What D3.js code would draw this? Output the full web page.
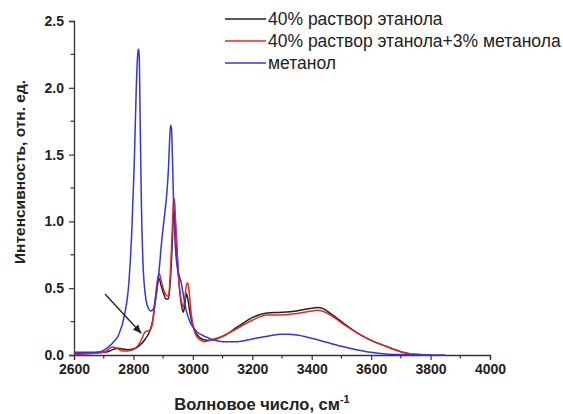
<!DOCTYPE html>
<html><head><meta charset="utf-8">
<script src="https://cdn.jsdelivr.net/npm/d3@7/dist/d3.min.js"></script>
<style>body{margin:0;background:#fff}svg{display:block}text{font-family:"Liberation Sans",Arial,sans-serif}</style>
</head><body>
<script>
const seriesNames = ["40% раствор этанола","40% раствор этанола+3% метанола","метанол"];
const seriesColors = ["#222222","#e8262a","#3434e0"];
const xTicks = [2600,2800,3000,3200,3400,3600,3800,4000];
const yTicks = [0.0,0.5,1.0,1.5,2.0,2.5];

const ethanolX = [2600,2650,2700,2720,2735,2750,2765,2780,2800,2820,2840,2855,2865,2872,2880,2887,2893,2900,2910,2918,2924,2930,2935,2938,2942,2948,2955,2962,2968,2973,2978,2983,2990,3000,3015,3030,3050,3075,3100,3150,3200,3250,3300,3350,3400,3420,3440,3470,3500,3550,3600,3650,3700,3730,3760,3800];
const ethanolY = [0.01,0.015,0.02,0.03,0.045,0.05,0.045,0.04,0.045,0.07,0.12,0.18,0.26,0.38,0.52,0.57,0.52,0.47,0.42,0.42,0.55,0.8,1.05,1.07,0.95,0.7,0.5,0.37,0.32,0.38,0.46,0.42,0.32,0.22,0.15,0.12,0.11,0.12,0.14,0.21,0.28,0.315,0.32,0.33,0.35,0.355,0.345,0.3,0.25,0.17,0.11,0.065,0.025,0.01,0.003,0.0];

const mixX = [2600,2650,2700,2715,2728,2740,2752,2765,2780,2800,2815,2828,2838,2846,2852,2860,2868,2875,2882,2887,2893,2900,2910,2918,2924,2930,2935,2938,2942,2948,2955,2962,2968,2973,2978,2983,2988,2995,3005,3020,3040,3060,3080,3100,3150,3200,3250,3300,3350,3400,3420,3440,3470,3500,3550,3600,3650,3700,3730,3760,3800];
const mixY = [0.005,0.01,0.02,0.04,0.06,0.055,0.04,0.03,0.03,0.04,0.07,0.12,0.17,0.18,0.18,0.2,0.3,0.45,0.58,0.61,0.56,0.5,0.45,0.44,0.6,0.9,1.15,1.17,1.0,0.75,0.5,0.4,0.36,0.42,0.52,0.54,0.46,0.3,0.18,0.12,0.1,0.11,0.12,0.14,0.2,0.26,0.3,0.3,0.31,0.33,0.335,0.325,0.29,0.24,0.17,0.11,0.065,0.025,0.01,0.003,0.0];

const methanolX = [2600,2650,2690,2710,2730,2750,2770,2785,2795,2803,2809,2813,2816,2818,2820,2823,2827,2832,2840,2850,2858,2866,2875,2885,2895,2905,2912,2918,2922,2925,2928,2931,2935,2940,2946,2953,2960,2968,2978,2990,3000,3015,3030,3050,3075,3100,3150,3200,3250,3300,3320,3350,3400,3450,3500,3550,3600,3650,3700,3750,3800,3850];
const methanolY = [0.02,0.02,0.025,0.05,0.09,0.15,0.3,0.55,0.95,1.45,1.95,2.2,2.28,2.29,2.2,1.7,1.1,0.7,0.45,0.35,0.33,0.34,0.42,0.6,0.85,1.05,1.2,1.4,1.62,1.72,1.7,1.5,1.15,0.85,0.68,0.6,0.55,0.45,0.33,0.25,0.21,0.17,0.15,0.13,0.11,0.1,0.1,0.12,0.14,0.155,0.155,0.15,0.125,0.095,0.065,0.04,0.02,0.008,0.003,0.001,0.0,0.0];

const W = 563, H = 414;
const svg = d3.select("body").append("svg").attr("width", W).attr("height", H);
const x = d3.scaleLinear().domain([2600,4000]).range([74,490]);
const y = d3.scaleLinear().domain([0,2.5]).range([355,21]);

// axes
const xAxis = d3.axisBottom(x).tickValues(xTicks).tickFormat(d3.format("d")).tickSize(5).tickPadding(4);
const gx = svg.append("g").attr("transform","translate(0,355)").call(xAxis);
const yAxis = d3.axisLeft(y).tickValues(yTicks).tickFormat(d3.format(".1f")).tickSize(5).tickPadding(5);
const gy = svg.append("g").attr("transform","translate(74,0)").call(yAxis);
[gx,gy].forEach(g=>{
  g.select(".domain").attr("stroke","#333").attr("stroke-width",1.3);
  g.selectAll(".tick line").attr("stroke","#333").attr("stroke-width",1.2);
  g.selectAll(".tick text").attr("fill","#222").attr("font-size","14px").attr("font-weight","bold").attr("font-family","'Liberation Sans',Arial,sans-serif");
});
// minor ticks
const xMinor = d3.range(2700,4000,200);
svg.append("g").selectAll("line").data(xMinor).join("line")
  .attr("x1",d=>x(d)).attr("x2",d=>x(d)).attr("y1",355).attr("y2",358.5).attr("stroke","#333").attr("stroke-width",1.2);
const yMinor = [0.25,0.75,1.25,1.75,2.25];
svg.append("g").selectAll("line").data(yMinor).join("line")
  .attr("y1",d=>y(d)).attr("y2",d=>y(d)).attr("x1",74).attr("x2",70.5).attr("stroke","#333").attr("stroke-width",1.2);

// lines
const line = d3.line().x(d=>x(d[0])).y(d=>y(d[1])).curve(d3.curveMonotoneX);
const data = [
  d3.zip(ethanolX, ethanolY),
  d3.zip(mixX, mixY),
  d3.zip(methanolX, methanolY)
];
[0,1,2].forEach(i=>{
  svg.append("path").datum(data[i]).attr("d",line).attr("fill","none")
    .attr("stroke",seriesColors[i]).attr("stroke-width",1.5).attr("stroke-linejoin","round");
});

// arrow
const defs = svg.append("defs");
defs.append("marker").attr("id","ah").attr("viewBox","0 0 10 10").attr("refX",9).attr("refY",5)
  .attr("markerWidth",7).attr("markerHeight",7).attr("orient","auto")
  .append("path").attr("d","M0,1 L10,5 L0,9 Z").attr("fill","#222");
svg.append("line").attr("x1",105).attr("y1",294).attr("x2",141).attr("y2",333)
  .attr("stroke","#222").attr("stroke-width",1.3).attr("marker-end","url(#ah)");

// legend
const lg = svg.append("g");
seriesNames.forEach((n,i)=>{
  const yy = 19 + i*22;
  lg.append("line").attr("x1",225).attr("x2",266).attr("y1",yy).attr("y2",yy).attr("stroke",seriesColors[i]).attr("stroke-width",1.6);
  lg.append("text").attr("x",268).attr("y",yy+6).attr("font-size","17.5px").attr("fill","#222").text(n);
});

// axis titles
const xt = svg.append("text").attr("x",262).attr("y",410).attr("text-anchor","middle")
  .attr("font-size","16.5px").attr("font-weight","bold").attr("fill","#222");
xt.append("tspan").text("Волновое число, см");
xt.append("tspan").attr("dy",-7).attr("font-size","11px").text("-1");

svg.append("text").attr("transform","translate(25,172) rotate(-90)").attr("text-anchor","middle")
  .attr("font-size","15.5px").attr("font-weight","bold").attr("fill","#222").text("Интенсивность, отн. ед.");
</script>
</body></html>
